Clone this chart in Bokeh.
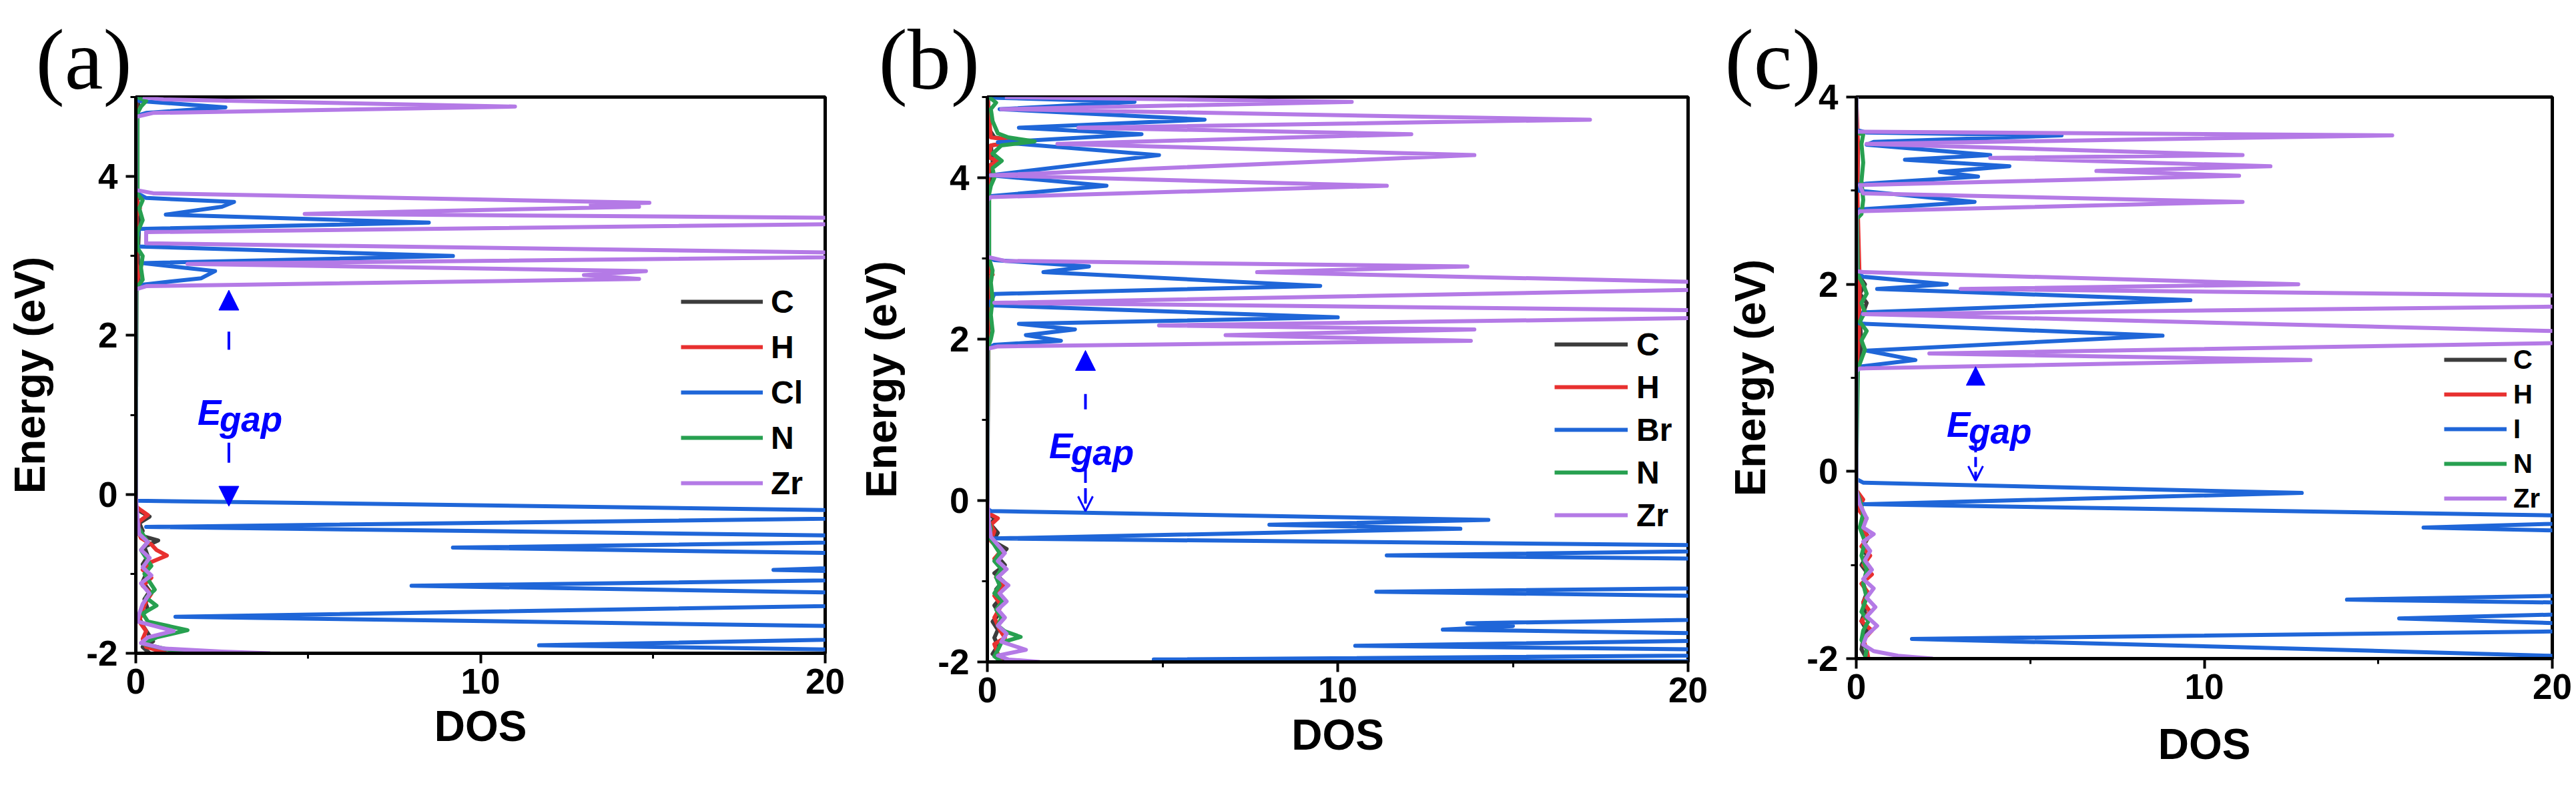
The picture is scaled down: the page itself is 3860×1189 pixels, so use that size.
from bokeh.plotting import figure
from bokeh.models import (Label, Arrow, NormalHead, OpenHead, Legend, LegendItem,
                          Range1d, FixedTicker)
from bokeh.layouts import row
from bokeh.embed import file_html
from bokeh.resources import INLINE

# ---------------- data: panel (a) ----------------
A_NAMES = ["C", "H", "Cl", "N", "Zr"]
A_C_E = [5.0, 4.9, 4.8, 3.7, 3.45, 3.0, 2.7, 2.6, 0.0, -0.15, -0.22, -0.28, -0.36, -0.46, -0.52, -0.58,
         -0.66, -0.78, -0.88, -1.0, -1.1, -1.22, -1.32, -1.45, -1.55, -1.65, -1.75, -1.85, -1.92, -2.0]
A_C_D = [0.02, 0.08, 0.02, 0.05, 0.1, 0.06, 0.08, 0.02, 0.0, 0.0, 0.15, 0.4, 0.1, 0.2, 0.15, 0.65,
         0.25, 0.35, 0.2, 0.3, 0.2, 0.4, 0.25, 0.35, 0.1, 0.2, 0.35, 0.5, 0.2, 0.4]
A_H_E = [5.0, 3.7, 3.6, 3.5, 2.9, 2.8, 2.6, 0.0, -0.15, -0.2, -0.26, -0.34, -0.45, -0.55, -0.63, -0.7,
         -0.77, -0.86, -0.95, -1.05, -1.15, -1.25, -1.35, -1.45, -1.6, -1.72, -1.82, -1.92, -2.0]
A_H_D = [0.0, 0.02, 0.12, 0.02, 0.02, 0.1, 0.0, 0.0, 0.0, 0.15, 0.35, 0.1, 0.05, 0.15, 0.45, 0.6,
         0.9, 0.4, 0.2, 0.45, 0.2, 0.45, 0.3, 0.2, 0.1, 0.3, 0.2, 0.3, 0.9]
A_X_E = [5.0, 4.95, 4.87, 4.80, 4.76, 3.80, 3.73, 3.68, 3.62, 3.52, 3.42, 3.34, 3.12, 3.00, 2.91,
         2.81, 2.72, 2.63, 0.0, -0.08, -0.255, -0.41, -0.56, -0.67, -0.80, -0.95, -1.04, -1.15,
         -1.32, -1.54, -1.73, -1.90, -2.0]
A_X_D = [0.0, 0.1, 2.6, 0.3, 0.0, 0.0, 0.3, 2.85, 2.5, 0.87, 8.5, 0.1, 0.0, 9.2, 0.2,
         2.3, 1.9, 0.0, 0.0, 0.0, 30, 0.3, 28, 9.2, 30, 18.5, 28, 8.0,
         32, 1.15, 32, 11.7, 28]
A_N_E = [5.0, 4.95, 4.88, 4.8, 3.78, 3.7, 3.6, 3.45, 3.3, 3.1, 3.0, 2.85, 2.7, 2.6, 0.0, -0.2, -0.4,
         -0.5, -0.6, -0.7, -0.8, -0.9, -1.0, -1.1, -1.2, -1.3, -1.4, -1.5, -1.6, -1.71, -1.8, -1.88,
         -1.95, -2.0]
A_N_D = [0.05, 0.3, 0.15, 0.05, 0.05, 0.2, 0.1, 0.2, 0.05, 0.05, 0.2, 0.15, 0.2, 0.02, 0.0, 0.0, 0.05,
         0.2, 0.35, 0.15, 0.3, 0.45, 0.25, 0.4, 0.55, 0.3, 0.6, 0.2, 0.35, 1.5, 0.6, 0.2,
         0.9, 1.7]
A_Z_E = [5.0, 4.97, 4.88, 4.80, 4.75, 3.83, 3.79, 3.67, 3.645, 3.62, 3.53, 3.45, 3.30, 3.16, 3.01,
         2.90, 2.81, 2.76, 2.71, 2.62, 2.58, 0.0, -0.3, -0.5, -0.6, -0.7, -0.8, -0.92, -1.02, -1.12,
         -1.25, -1.38, -1.5, -1.6, -1.72, -1.8, -1.87, -1.94, -1.98, -2.0]
A_Z_D = [0.2, 0.8, 11.0, 0.5, 0.0, 0.0, 0.5, 14.9, 13.2, 14.6, 4.9, 30, 0.3, 0.3, 26,
         1.5, 14.8, 13.0, 14.6, 0.3, 0.0, 0.0, 0.05, 0.1, 0.35, 0.15, 0.4, 0.2, 0.45, 0.15,
         0.4, 0.2, 0.1, 0.05, 1.1, 0.35, 0.15, 0.8, 2.5, 3.9]

# ---------------- data: panel (b) ----------------
B_NAMES = ["C", "H", "Br", "N", "Zr"]
B_C_E = [5.0, 4.6, 4.5, 4.45, 4.4, 4.2, 3.9, 2.9, 2.0, 0.0, -0.15, -0.22, -0.3, -0.4, -0.5, -0.6,
         -0.7, -0.8, -0.9, -1.0, -1.1, -1.2, -1.3, -1.4, -1.5, -1.6, -1.7, -1.8, -1.9, -2.0]
B_C_D = [0.02, 0.05, 0.2, 0.8, 0.1, 0.15, 0.05, 0.05, 0.03, 0.0, 0.0, 0.2, 0.1, 0.3, 0.15, 0.55,
         0.3, 0.5, 0.2, 0.45, 0.25, 0.4, 0.2, 0.35, 0.15, 0.3, 0.2, 0.3, 0.15, 0.5]
B_H_E = [5.0, 4.5, 4.45, 4.4, 4.25, 4.21, 4.15, 3.9, 2.85, 2.8, 2.75, 2.0, 0.0, -0.15, -0.22, -0.3,
         -0.38, -0.5, -0.62, -0.72, -0.85, -0.95, -1.05, -1.18, -1.3, -1.45, -1.6, -1.7, -1.78,
         -1.9, -2.0]
B_H_D = [0.0, 0.1, 1.0, 0.1, 0.05, 0.3, 0.05, 0.02, 0.02, 0.15, 0.02, 0.02, 0.0, 0.0, 0.3, 0.1,
         0.2, 0.1, 0.4, 0.2, 0.5, 0.25, 0.45, 0.2, 0.4, 0.2, 0.35, 0.5, 0.2,
         0.3, 0.4]
B_X_E = [5.0, 4.99, 4.94, 4.85, 4.72, 4.62, 4.54, 4.44, 4.28, 4.03, 3.90, 3.77, 3.72, 3.02, 2.98,
         2.90, 2.83, 2.66, 2.56, 2.42, 2.27, 2.19, 2.12, 2.05, 1.98, 1.93, 1.88, 0.0, -0.10, -0.13,
         -0.24, -0.30, -0.35, -0.47, -0.585, -0.68, -0.90, -1.13, -1.32, -1.52, -1.555, -1.60,
         -1.69, -1.80, -1.89, -1.97, -2.0]
B_X_D = [0.0, 0.3, 4.2, 0.35, 6.2, 0.9, 4.4, 0.3, 4.9, 0.06, 3.4, 0.05, 0.0, 0.0, 0.2,
         2.9, 1.6, 9.5, 0.2, 0.05, 10.0, 0.9, 2.5, 1.1, 2.1, 0.2, 0.0, 0.0, 0.0, 0.1,
         14.3, 8.05, 13.5, 0.2, 28, 11.4, 60, 11.1, 45, 13.7, 15.0, 13.0,
         28, 10.5, 30, 4.75, 25]
B_N_E = [5.0, 4.93, 4.85, 4.7, 4.55, 4.5, 4.45, 4.4, 4.3, 4.21, 4.12, 4.0, 3.9, 3.8, 3.0, 2.85, 2.7,
         2.5, 2.3, 2.1, 2.0, 1.9, 0.0, -0.2, -0.35, -0.45, -0.55, -0.65, -0.75, -0.85, -0.95, -1.05,
         -1.15, -1.25, -1.35, -1.45, -1.55, -1.62, -1.69, -1.76, -1.85, -1.93, -2.0]
B_N_D = [0.05, 0.25, 0.1, 0.15, 0.3, 0.6, 1.35, 0.4, 0.15, 0.41, 0.15, 0.2, 0.1, 0.05, 0.05, 0.15, 0.1,
         0.15, 0.1, 0.15, 0.1, 0.02, 0.0, 0.0, 0.1, 0.05, 0.2, 0.35, 0.2, 0.4, 0.25, 0.35,
         0.2, 0.45, 0.25, 0.4, 0.3, 0.5, 0.95, 0.4, 0.3, 0.2, 0.4]
B_Z_E = [5.0, 4.94, 4.85, 4.72, 4.62, 4.54, 4.42, 4.28, 4.03, 3.90, 3.76, 3.72, 3.02, 2.97, 2.90,
         2.83, 2.71, 2.665, 2.61, 2.45, 2.36, 2.31, 2.26, 2.17, 2.12, 2.05, 1.98, 1.91, 1.88, 0.0,
         -0.3, -0.45, -0.55, -0.65, -0.75, -0.85, -0.95, -1.05, -1.15, -1.25, -1.35, -1.45, -1.55,
         -1.65, -1.75, -1.85, -1.92, -1.97, -2.0]
B_Z_D = [0.5, 10.4, 0.4, 17.2, 2.6, 12.1, 2.0, 13.9, 0.1, 11.4, 0.1, 0.0, 0.0, 0.5, 13.7,
         7.7, 20, 40, 20, 0.2, 20, 40, 20, 4.9, 13.9, 6.8, 13.8, 0.3, 0.0, 0.0,
         0.05, 0.1, 0.3, 0.5, 0.3, 0.55, 0.3, 0.6, 0.35, 0.55, 0.3, 0.5, 0.3,
         0.55, 0.4, 1.1, 0.3, 0.6, 1.5]

# ---------------- data: panel (c) ----------------
C_NAMES = ["C", "H", "I", "N", "Zr"]
C_C_E = [4.0, 3.6, 3.4, 3.0, 2.8, 2.1, 2.0, 1.9, 1.8, 1.6, 1.4, 1.2, 1.1, 0.0, -0.2, -0.3, -0.4,
         -0.5, -0.6, -0.7, -0.8, -0.9, -1.0, -1.1, -1.2, -1.3, -1.4, -1.5, -1.6, -1.7, -1.8, -1.9, -2.0]
C_C_D = [0.0, 0.02, 0.05, 0.03, 0.02, 0.05, 0.25, 0.1, 0.3, 0.1, 0.15, 0.1, 0.02, 0.0, 0.0, 0.15, 0.05,
         0.3, 0.15, 0.35, 0.2, 0.3, 0.15, 0.35, 0.2, 0.3, 0.2, 0.25, 0.15, 0.3, 0.2, 0.15, 0.3]
C_H_E = [4.0, 3.5, 3.0, 2.0, 1.5, 1.1, 0.0, -0.2, -0.3, -0.4, -0.5, -0.6, -0.7, -0.8, -0.9, -1.0,
         -1.1, -1.2, -1.3, -1.4, -1.5, -1.6, -1.7, -1.8, -1.9, -2.0]
C_H_D = [0.0, 0.05, 0.03, 0.1, 0.08, 0.02, 0.0, 0.0, 0.2, 0.05, 0.25, 0.1, 0.35, 0.15, 0.4, 0.2,
         0.45, 0.15, 0.35, 0.2, 0.4, 0.15, 0.45, 0.2, 0.3, 0.35]
C_X_E = [4.0, 3.65, 3.62, 3.59, 3.52, 3.49, 3.38, 3.33, 3.26, 3.20, 3.15, 3.07, 3.0, 2.88, 2.80,
         2.75, 2.12, 2.08, 2.0, 1.95, 1.83, 1.70, 1.58, 1.45, 1.29, 1.19, 1.12, 1.08, 0.0, -0.08,
         -0.12, -0.23, -0.35, -0.47, -0.52, -0.56, -0.60, -0.63, -0.98, -1.33, -1.37, -1.40, -1.48,
         -1.53, -1.57, -1.62, -1.66, -1.71, -1.79, -1.88, -1.97, -2.0]
C_X_D = [0.0, 0.0, 0.3, 5.9, 0.5, 0.3, 3.85, 1.4, 4.4, 2.4, 3.5, 0.1, 0.05, 3.4, 0.1,
         0.0, 0.0, 0.2, 2.6, 0.6, 9.6, 0.2, 0.1, 8.8, 0.3, 1.7, 0.1, 0.0, 0.0, 0.0,
         0.2, 12.8, 0.2, 20, 35, 20, 16.3, 20, 50, 20, 14.1, 20, 35,
         20, 15.6, 20, 35, 20, 1.6, 11.3, 20, 22]
C_N_E = [4.0, 3.62, 3.6, 3.5, 3.3, 3.1, 2.9, 2.75, 2.7, 2.1, 2.0, 1.9, 1.8, 1.7, 1.6, 1.5, 1.4, 1.3,
         1.2, 1.1, 0.0, -0.2, -0.3, -0.45, -0.6, -0.75, -0.9, -1.05, -1.2, -1.35, -1.5, -1.6, -1.7,
         -1.8, -1.9, -2.0]
C_N_D = [0.0, 0.0, 0.2, 0.15, 0.2, 0.15, 0.2, 0.15, 0.02, 0.05, 0.2, 0.3, 0.15, 0.25, 0.1, 0.3, 0.15, 0.25,
         0.15, 0.05, 0.0, 0.0, 0.1, 0.2, 0.1, 0.25, 0.15, 0.3, 0.2, 0.3, 0.15, 0.35, 0.2,
         0.15, 0.3, 0.25]
C_Z_E = [4.0, 3.63, 3.59, 3.50, 3.38, 3.35, 3.26, 3.21, 3.16, 3.06, 2.97, 2.88, 2.78, 2.74, 2.14,
         2.13, 2.00, 1.95, 1.88, 1.82, 1.76, 1.68, 1.50, 1.44, 1.37, 1.26, 1.19, 1.10, 1.07, 0.0,
         -0.2, -0.35, -0.5, -0.6, -0.67, -0.75, -0.85, -0.95, -1.05, -1.15, -1.25, -1.35, -1.45,
         -1.55, -1.65, -1.75, -1.85, -1.92, -1.97, -2.0]
C_Z_D = [0.0, 0.0, 15.4, 0.3, 11.1, 3.85, 11.9, 6.9, 11.0, 0.1, 0.2, 11.1, 0.1, 0.0, 0.0,
         0.2, 12.7, 3.0, 20, 40, 20, 0.2, 20, 40, 20, 2.1, 13.05, 0.1, 0.0, 0.0,
         0.0, 0.1, 0.3, 0.2, 0.5, 0.2, 0.4, 0.25, 0.45, 0.2, 0.5, 0.3, 0.55,
         0.3, 0.6, 0.3, 0.2, 0.5, 1.2, 2.2]

X_TICKS = [0, 10, 20]
X_MINOR = [5, 15]

COLORS = ["#3c3c3c", "#e8302f", "#1f66d8", "#27a050", "#b47ae6"]
BLUE = "#0000ff"
SANS = "Liberation Sans"


def make_panel(series, names, ymax, yticks, yminor, geom, leg, tag, egap, arrows, xstand):
    fl, fw, fr, ft, fh, fb = geom
    p = figure(frame_width=fw, frame_height=fh, min_border_left=fl, min_border_right=fr,
               min_border_top=ft, min_border_bottom=fb,
               x_range=Range1d(0, 20), y_range=Range1d(-2, ymax),
               output_backend="svg", toolbar_location=None)
    p.grid.visible = False
    p.outline_line_color = "black"
    p.outline_line_width = 5
    p.outline_line_alpha = 1.0
    p.background_fill_color = "white"
    p.border_fill_color = "white"

    for ax in (p.xaxis[0], p.yaxis[0]):
        ax.axis_line_width = 5
        ax.major_tick_line_width = 4
        ax.minor_tick_line_width = 3
        ax.major_tick_out = 15
        ax.major_tick_in = 0
        ax.minor_tick_out = 8
        ax.minor_tick_in = 0
        ax.major_label_text_font = SANS
        ax.major_label_text_font_style = "bold"
        ax.major_label_text_font_size = "53px"
        ax.major_label_text_color = "black"
        ax.axis_label_text_font = SANS
        ax.axis_label_text_font_style = "bold"
        ax.axis_label_text_font_size = "64px"
        ax.axis_label_text_color = "black"
    p.xaxis.ticker = FixedTicker(ticks=X_TICKS, minor_ticks=X_MINOR)
    p.yaxis.ticker = FixedTicker(ticks=yticks, minor_ticks=yminor)
    p.yaxis.major_label_overrides = {t: str(t) for t in yticks}
    p.xaxis.major_label_overrides = {t: str(t) for t in X_TICKS}
    p.xaxis.major_label_standoff = 8
    p.yaxis.major_label_standoff = 12
    p.xaxis.axis_label = "DOS"
    p.yaxis.axis_label = "Energy (eV)"
    p.xaxis.axis_label_standoff = xstand
    p.yaxis.axis_label_standoff = 45

    # panel tag "(a)" etc. as a left-aligned title above the frame
    tt, toff = tag
    p.title.text = tt
    p.title.text_font = "Liberation Serif"
    p.title.text_font_size = "130px"
    p.title.text_font_style = "normal"
    p.title.text_color = "black"
    p.title.align = "left"
    p.title.offset = toff
    p.title.standoff = -30

    rends = []
    for (E, D), col in zip(series, COLORS):
        r = p.line(x=D, y=E, line_color=col, line_width=6, line_join="round")
        rends.append(r)

    lx, ly, gw, ih, ls, lfs = leg
    legend = Legend(items=[LegendItem(label=n, renderers=[r]) for n, r in zip(names, rends)],
                    location=(lx, ly), orientation="vertical", padding=0, margin=0, spacing=0,
                    glyph_width=gw, glyph_height=ih, label_height=ih, label_standoff=ls,
                    label_text_font=SANS, label_text_font_style="bold",
                    label_text_font_size=lfs, label_text_color="black",
                    border_line_alpha=0, background_fill_alpha=0)
    p.add_layout(legend)

    ex, ey = egap
    p.add_layout(Label(x=ex, y=ey, text="E", text_font=SANS, text_font_style="bold italic",
                       text_font_size="53px", text_color=BLUE, text_baseline="alphabetic"))
    p.add_layout(Label(x=ex, y=ey, x_offset=33, y_offset=-10, text="gap", text_font=SANS,
                       text_font_style="bold italic", text_font_size="53px", text_color=BLUE,
                       text_baseline="alphabetic"))

    for (ax_, y0, y1, kind, size, dash) in arrows:
        if kind == "fill":
            head = NormalHead(size=size, fill_color=BLUE, line_color=BLUE, line_width=1)
        else:
            head = OpenHead(size=size, line_color=BLUE, line_width=3)
        p.add_layout(Arrow(end=head, x_start=ax_, y_start=y0, x_end=ax_, y_end=y1,
                           line_color=BLUE, line_width=4, line_dash=dash))
    return p


pa = make_panel(
    [(A_C_E, A_C_D), (A_H_E, A_H_D), (A_X_E, A_X_D), (A_N_E, A_N_D), (A_Z_E, A_Z_D)],
    A_NAMES, 5, [-2, 0, 2, 4], [-1, 1, 3, 5],
    (203, 1033, 46, 126, 834, 213),
    (817, 221, 123, 68, 12, "48px"),
    ("(a)", -150),
    (1.79, 1.03),
    [(2.7, 1.82, 2.57, "fill", 30, "27 40"), (2.7, 0.65, -0.15, "fill", 30, "30 40")],
    10)

pb = make_panel(
    [(B_C_E, B_C_D), (B_H_E, B_H_D), (B_X_E, B_X_D), (B_N_E, B_N_D), (B_Z_E, B_Z_D)],
    B_NAMES, 5, [-2, 0, 2, 4], [-1, 1, 3, 5],
    (185, 1050, 55, 123, 847, 203),
    (850, 188, 110, 64, 13, "48px"),
    ("(b)", -163),
    (1.76, 0.68),
    [(2.8, 1.13, 1.86, "fill", 30, "23 40"), (2.8, 0.41, -0.13, "open", 22, "23 8")],
    10)

pc = make_panel(
    [(C_C_E, C_C_D), (C_H_E, C_H_D), (C_X_E, C_X_D), (C_N_E, C_N_D), (C_Z_E, C_Z_D)],
    C_NAMES, 4, [-2, 0, 2, 4], [-1, 1, 3],
    (193, 1043, 36, 145, 842, 186),
    (881, 214, 94, 52, 10, "40px"),
    ("(c)", -197),
    (2.6, 0.5),
    [(3.43, 0.93, 1.12, "fill", 28, "solid"), (3.43, 0.31, -0.10, "open", 22, "15 7")],
    29)

layout = row(pa, pb, pc)
open("out.html", "w").write(file_html(layout, INLINE))
